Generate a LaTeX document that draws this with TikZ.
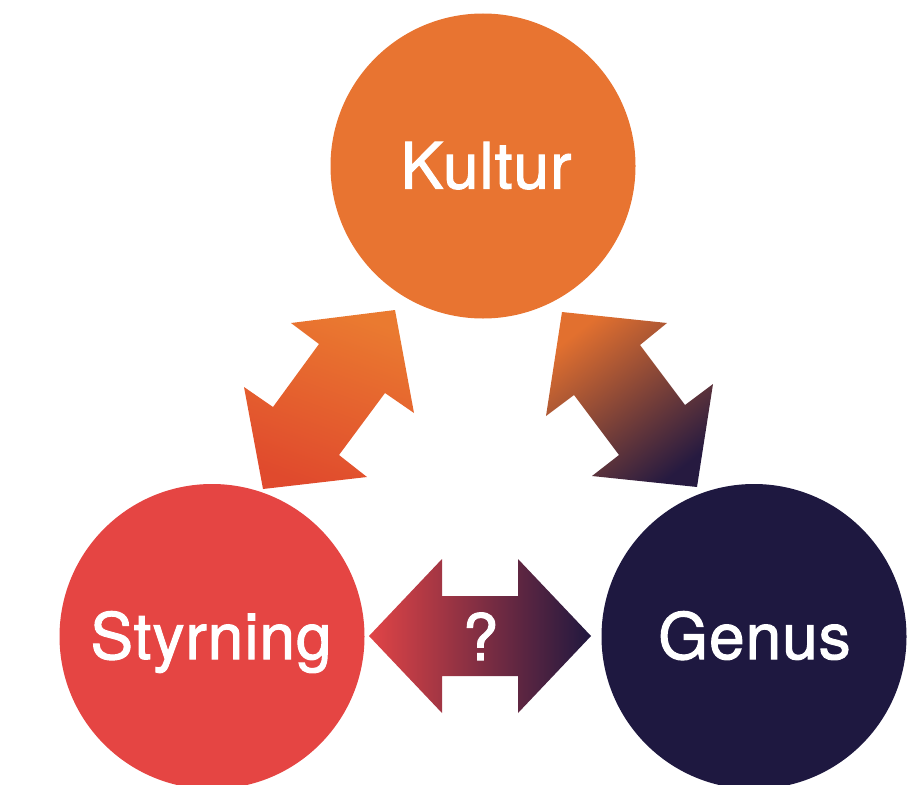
\documentclass[tikz,border=0pt]{standalone}
\usepackage{fontspec}
\setmainfont{TeX Gyre Heros}
\newfontfamily\lblfont[FakeBold=1.6, LetterSpace=1.5]{TeX Gyre Heros}
\definecolor{kulturC}{RGB}{232,116,49}
\definecolor{styrC}{RGB}{229,69,67}
\definecolor{genusC}{RGB}{30,24,64}
\definecolor{arrOrange}{RGB}{234,122,48}
\definecolor{arrRed}{RGB}{224,74,45}
\definecolor{arrOrange2}{RGB}{226,112,47}
\definecolor{arrNavy}{RGB}{38,26,64}
\definecolor{botRed}{RGB}{225,68,70}
\definecolor{botNavy}{RGB}{32,24,63}
\begin{document}
\begin{tikzpicture}[x=1pt,y=-1pt,
  disc/.style={circle, minimum size=305pt, inner sep=0pt, draw=none},
  lbl/.style={text=white, font=\lblfont\fontsize{64}{64}\selectfont, anchor=base, inner sep=0pt}]
\useasboundingbox (0,0) rectangle (917,784);
\clip (0,0) rectangle (917,784);
\node[disc, fill=kulturC] (kultur) at (483,166) {};
\node[disc, fill=styrC] (styrning) at (212,636.5) {};
\node[disc, fill=genusC] (genus) at (754,636.5) {};
\node[lbl] (tk) at (486,188.5) {Kultur};
\node[lbl] (ts) at (211,659) {Styrning};
\node[lbl] (tg) at (754.5,659) {Genus};
% left arrow Kultur <-> Styrning
\shade[top color=arrOrange, bottom color=arrRed, shading angle=-20]
  (395,310) -- (414,413) -- (385,393) -- (339,455) -- (367,477) -- (263,489)
  -- (244,387) -- (273,407) -- (319,344) -- (291,323) -- cycle;
% right arrow Kultur <-> Genus
\shade[top color=arrOrange2, bottom color=arrNavy, shading angle=37.6]
  (562,312) -- (667,323) -- (640,345) -- (685,405) -- (713,384) -- (697,487)
  -- (592,476) -- (619,455) -- (574,395) -- (546,416) -- cycle;
% bottom arrow Styrning <-> Genus
\shade[left color=botRed, right color=botNavy]
  (369,636) -- (442,559) -- (442,596) -- (518,596) -- (518,559) -- (591,636)
  -- (518,713) -- (518,676) -- (442,676) -- (442,713) -- cycle;
\node[lbl] (tq) at (480.5,660) {?};
\end{tikzpicture}
\end{document}
